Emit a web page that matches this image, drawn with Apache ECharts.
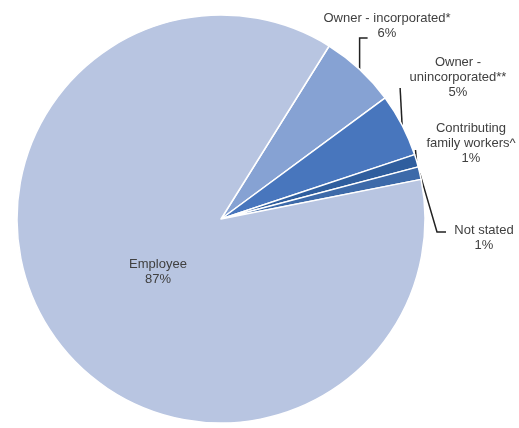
<!DOCTYPE html>
<html>
<head>
<meta charset="utf-8">
<script src="https://cdn.jsdelivr.net/npm/echarts@6/dist/echarts.min.js"></script>
<style>
  html, body { margin: 0; padding: 0; background: #ffffff; }
  #chart { width: 519px; height: 428px; }
</style>
</head>
<body>
<div id="chart"></div>
<script>
// Employment status shares (percent)
const categories = [
  'Owner - incorporated*',
  'Owner -\nunincorporated**',
  'Contributing\nfamily workers^',
  'Not stated',
  'Employee'
];
const shares = [6, 5, 1, 1, 87];
const sliceColors = ['#86a2d3', '#4876bd', '#2f5e9e', '#3d6aa9', '#b8c5e1'];

// label centres and leader-line shapes, per slice
const labelPlacement = [
  { x: 387, y: 26, bend: (p) => [p, [p[0], 38], [p[0] + 8, 38]] },
  { x: 458, y: 77, bend: (p) => [p, [p[0] - 2, 88]] },
  { x: 471, y: 143, bend: (p) => [p, [p[0] - 1, 150]] },
  { x: 484, y: 238, bend: (p) => [p, [437, 232], [446, 232]] },
  { x: 158, y: 272, bend: null }
];

const textStyle = {
  fontFamily: 'Liberation Sans, Arial, sans-serif',
  fontSize: 13,
  lineHeight: 15,
  color: '#404040',
  align: 'center',
  overflow: 'none'
};

const chart = echarts.init(document.getElementById('chart'));

chart.setOption({
  animation: false,
  series: [{
    type: 'pie',
    center: [221, 219],
    radius: 204,
    startAngle: 58,
    clockwise: true,
    avoidLabelOverlap: false,
    data: categories.map((name, i) => {
      const item = {
        name: name,
        value: shares[i],
        itemStyle: { color: sliceColors[i] }
      };
      if (!labelPlacement[i].bend) {
        item.label = Object.assign({ show: true, position: 'inside', formatter: '{b}\n{c}%' }, textStyle);
        item.labelLine = { show: false };
      }
      return item;
    }),
    itemStyle: { borderColor: '#ffffff', borderWidth: 1.5 },
    label: Object.assign({
      show: true,
      position: 'outside',
      formatter: '{b}\n{c}%'
    }, textStyle),
    labelLine: {
      show: true,
      lineStyle: { color: '#222222', width: 1.5 }
    },
    labelLayout: function (params) {
      const pl = labelPlacement[params.dataIndex];
      const out = {
        x: pl.x,
        y: pl.y,
        align: 'center',
        verticalAlign: 'middle'
      };
      if (pl.bend && params.labelLinePoints) {
        out.labelLinePoints = pl.bend(params.labelLinePoints[0]);
      }
      return out;
    },
    emphasis: { disabled: true }
  }]
});
</script>
</body>
</html>
